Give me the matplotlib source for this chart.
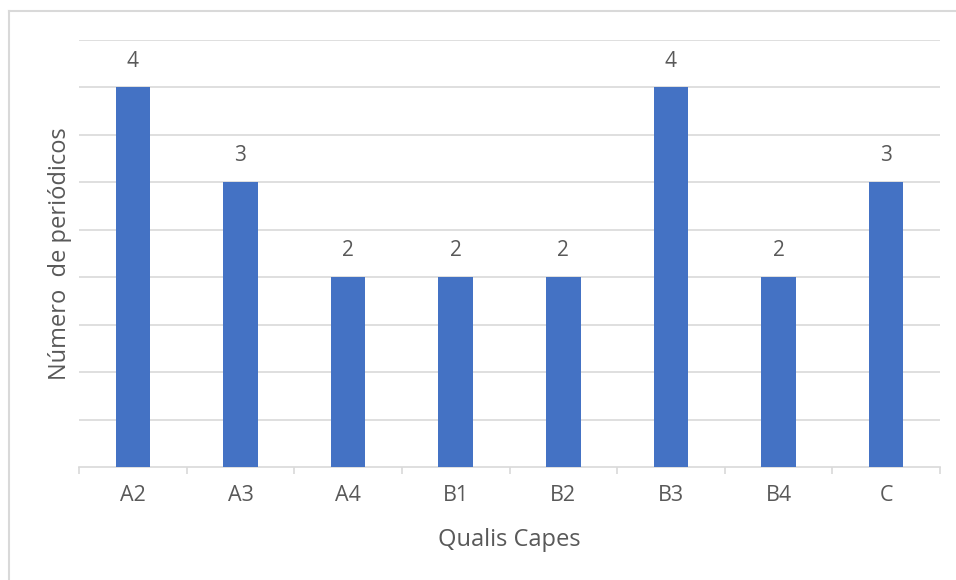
import numpy as np
import matplotlib
matplotlib.use("Agg")
import matplotlib.pyplot as plt
from matplotlib.lines import Line2D

# Données
categorias = ["A2", "A3", "A4", "B1", "B2", "B3", "B4", "C"]
periodicos = [4, 3, 2, 2, 2, 4, 2, 3]

plt.rcParams["font.family"] = ["Open Sans", "DejaVu Sans"]
texto = "#595959"
grade = "#D9D9D9"
azul = "#4472C4"

fig = plt.figure(figsize=(9.56, 5.80), dpi=100)
ax = fig.add_axes([79 / 956, 1 - 467 / 580, 861 / 956, 427 / 580])

x = np.arange(len(categorias))
barras = ax.bar(x, periodicos, width=0.32, color=azul, zorder=3)

for xi, v in zip(x, periodicos):
    ax.annotate(str(v), (xi, v), xytext=(0, 19), textcoords="offset points",
                ha="center", va="center", fontsize=15, color=texto)

ax.set_xlim(-0.5, len(categorias) - 0.5)
ax.set_ylim(0, 4.5)
ax.set_yticks(np.arange(0.5, 4.51, 0.5))
ax.set_yticklabels([])
ax.tick_params(axis="y", length=0)
ax.grid(axis="y", color=grade, linewidth=1.2, zorder=0)

ax.set_xticks(x)
ax.set_xticklabels(categorias, fontsize=15.5, color=texto)
ax.set_xticks(np.arange(-0.5, len(categorias)), minor=True)
ax.tick_params(axis="x", which="major", length=0, pad=13)
ax.tick_params(axis="x", which="minor", length=5, width=1.2, color=grade)

for lado in ["top", "right", "left"]:
    ax.spines[lado].set_visible(False)
ax.spines["bottom"].set_color(grade)
ax.spines["bottom"].set_linewidth(1.2)

ax.set_xlabel("Qualis Capes", fontsize=17, color=texto, va="center")
ax.set_ylabel("Número  de periódicos", fontsize=17, color=texto, va="center")
ax.xaxis.set_label_coords(0.5, -(540 - 467) / 427)
ax.yaxis.set_label_coords(-(79 - 60) / 861, 0.5)

# moldura do gráfico
fig.add_artist(Line2D([8.5 / 956, 1], [1 - 10.5 / 580] * 2, color=grade, linewidth=1.5))
fig.add_artist(Line2D([8.5 / 956] * 2, [0, 1 - 10.5 / 580], color=grade, linewidth=1.5))

fig.savefig("out.png", dpi=100)
